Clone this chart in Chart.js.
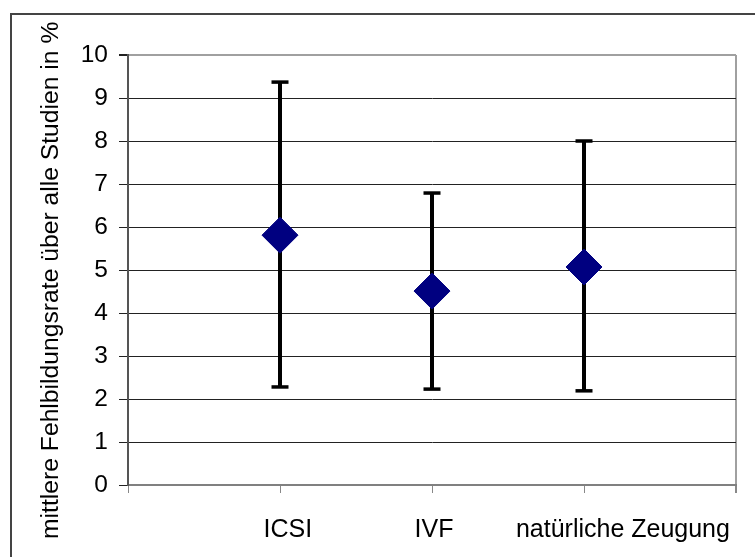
<!DOCTYPE html>
<html>
<head>
<meta charset="utf-8">
<script src="https://cdn.jsdelivr.net/npm/chart.js@4.4.0/dist/chart.umd.min.js"></script>
<style>
  html, body { margin: 0; padding: 0; background: #fff; overflow: hidden; }
  #wrap { position: relative; width: 755px; height: 557px; }
  #frame { position: absolute; left: 10px; top: 13px; width: 800px; height: 600px;
           border-left: 2px solid #444; border-top: 2px solid #444; box-sizing: border-box; pointer-events: none; }
  canvas { position: absolute; left: 0; top: 0; }
</style>
</head>
<body>
<div id="wrap">
  <canvas id="c" width="755" height="557"></canvas>
  <div id="frame"></div>
</div>
<script>
// ---- data ----
const categories = ['ICSI', 'IVF', 'natürliche Zeugung'];
const positions = [1, 2, 3];
const labelPositions = [1.052, 2.013, 3.256];
const means = [5.81, 4.51, 5.07];
const lowerBounds = [2.28, 2.23, 2.19];
const upperBounds = [9.37, 6.79, 8.0];
const xTicks = [0, 1, 2, 3, 4];
const yTicks = [0, 1, 2, 3, 4, 5, 6, 7, 8, 9, 10];
const yTitle = 'mittlere Fehlbildungsrate über alle Studien in %';

const FONT = "'Liberation Sans', Arial, sans-serif";
const diamondData = positions.map((x, i) => ({ x: x, y: means[i] }));
const capData = [];
positions.forEach((x, i) => { capData.push({ x: x, y: lowerBounds[i] }); capData.push({ x: x, y: upperBounds[i] }); });
const barDatasets = positions.map((x, i) => ({
  data: [{ x: x, y: lowerBounds[i] }, { x: x, y: upperBounds[i] }],
  showLine: true, borderColor: '#000', borderWidth: 4, pointRadius: 0, borderCapStyle: 'butt'
}));

new Chart(document.getElementById('c'), {
  type: 'scatter',
  data: {
    datasets: [
      { data: diamondData, pointStyle: 'rectRot', pointRadius: 18, pointHoverRadius: 18,
        backgroundColor: '#000080', borderColor: '#000080', borderWidth: 1 },
      { data: capData, pointStyle: 'line', pointRadius: 8.5, pointHoverRadius: 8.5,
        borderColor: '#000', borderWidth: 3.5 },
      ...barDatasets
    ]
  },
  options: {
    responsive: false,
    animation: false,
    events: [],
    layout: { padding: { left: 0, top: 55, right: 17, bottom: 0 } },
    plugins: { legend: { display: false }, tooltip: { enabled: false } },
    scales: {
      x: {
        type: 'linear', min: 0, max: 4, position: 'bottom', weight: 0,
        afterFit: s => { s.height = 8; s.paddingLeft = 0; s.paddingRight = 0; },
        afterBuildTicks: s => { s.ticks = xTicks.map(v => ({ value: v })); },
        ticks: { display: false },
        grid: {
          drawOnChartArea: true, drawTicks: true, tickLength: 8, tickColor: '#888',
          color: c => (c.tick && c.tick.value === 4) ? '#a0a0a0' : 'rgba(0,0,0,0)',
          lineWidth: c => (c.tick && c.tick.value === 4) ? 2 : 1
        },
        border: { display: true, color: '#808080', width: 2 }
      },
      xl: {
        type: 'linear', min: 0, max: 4, position: 'bottom', weight: 1, axis: 'x',
        afterFit: s => { s.height = 64; s.paddingLeft = 0; s.paddingRight = 0; },
        afterBuildTicks: s => { s.ticks = labelPositions.map(v => ({ value: v })); },
        ticks: {
          autoSkip: false, maxRotation: 0, padding: 22,
          color: '#000', font: { family: FONT, size: 25 },
          callback: v => { const i = labelPositions.indexOf(v); return i >= 0 ? categories[i] : ''; }
        },
        grid: { display: false, drawTicks: false },
        border: { display: false }
      },
      y: {
        type: 'linear', min: 0, max: 10,
        afterFit: s => { s.width = 128; },
        afterBuildTicks: s => { s.ticks = yTicks.map(v => ({ value: v })); },
        ticks: { padding: 11, color: '#000', font: { family: FONT, size: 24.5 } },
        grid: {
          drawTicks: true, tickLength: 9, tickColor: '#222',
          color: c => (c.tick && c.tick.value === 10) ? '#a0a0a0' : '#222',
          lineWidth: c => (c.tick && c.tick.value === 10) ? 2 : 1
        },
        border: { display: true, color: '#555', width: 2 },
        title: {
          display: true, text: yTitle + '   ', color: '#000',
          font: { family: FONT, size: 24.7 }, padding: { top: 36, bottom: 0 }
        }
      }
    }
  }
});
</script>
</body>
</html>
